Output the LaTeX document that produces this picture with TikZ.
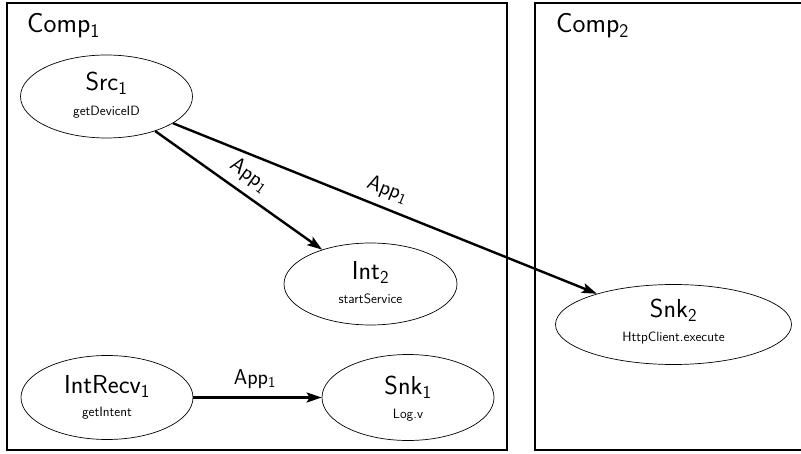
\documentclass[tikz,border=0pt]{standalone}
\usetikzlibrary{shapes.geometric,arrows.meta}
\renewcommand{\familydefault}{\sfdefault}
\begin{document}
\begin{tikzpicture}[x=1pt,y=-1pt,
  ev/.style={ellipse, draw, line width=0.7pt, inner sep=0pt},
  mainlbl/.style={anchor=base, inner sep=0pt, font=\fontsize{26}{30}\selectfont},
  sublbl/.style={anchor=base, inner sep=0pt, font=\fontsize{13.5}{16}\selectfont},
  complbl/.style={anchor=base west, inner sep=0pt, font=\fontsize{27.5}{32}\selectfont},
  compbox/.style={draw, line width=1.5pt, rectangle, inner sep=0pt},
  flow/.style={-{Stealth[length=15pt,width=10pt,inset=3pt]}, line width=2.4pt},
  applbl/.style={font=\fontsize{21.5}{25}\selectfont, sloped, above=4pt}
]
\useasboundingbox (0,0) rectangle (801,454);

% components
\node[compbox, minimum width=500pt, minimum height=447pt] (comp1) at (257,226.5) {};
\node[compbox, minimum width=268pt, minimum height=447pt] (comp2) at (669,226.5) {};
\node[complbl] (comp1L) at (27,33) {Comp\textsubscript{1}};
\node[complbl] (comp2L) at (556,33) {Comp\textsubscript{2}};

% Src1
\node[ev, minimum width=172pt, minimum height=83pt] (src) at (106.5,96.5) {};
\node[mainlbl] (srcM) at (106.5,91) {Src\textsubscript{1}};
\node[sublbl] (srcS) at (106.5,115.5) {getDeviceID};

% Int2
\node[ev, minimum width=173pt, minimum height=82pt] (int2) at (370.5,284) {};
\node[mainlbl] (int2M) at (370.5,279.5) {Int\textsubscript{2}};
\node[sublbl] (int2S) at (370.5,303.5) {startService};

% Snk2
\node[ev, minimum width=236pt, minimum height=80pt] (snk2) at (673.5,324.5) {};
\node[mainlbl] (snk2M) at (673.5,317.5) {Snk\textsubscript{2}};
\node[sublbl] (snk2S) at (673.5,342) {HttpClient.execute};

% IntRecv1
\node[ev, minimum width=172pt, minimum height=84pt] (irecv) at (107,397.5) {};
\node[mainlbl] (irecvM) at (107,394) {IntRecv\textsubscript{1}};
\node[sublbl] (irecvS) at (107,417) {getIntent};

% Snk1
\node[ev, minimum width=172pt, minimum height=86pt] (snk1) at (408,397.5) {};
\node[mainlbl] (snk1M) at (408,394.5) {Snk\textsubscript{1}};
\node[sublbl] (snk1S) at (408,418) {Log.v};

% flows
\draw[flow] (src) -- node[applbl, pos=0.5] (l1) {App\textsubscript{1}} (int2);
\draw[flow] (src) -- node[applbl, pos=0.49] (l2) {App\textsubscript{1}} (snk2);
\draw[flow] (irecv) -- node[applbl, pos=0.48] (l3) {App\textsubscript{1}} (snk1);
\end{tikzpicture}
\end{document}
